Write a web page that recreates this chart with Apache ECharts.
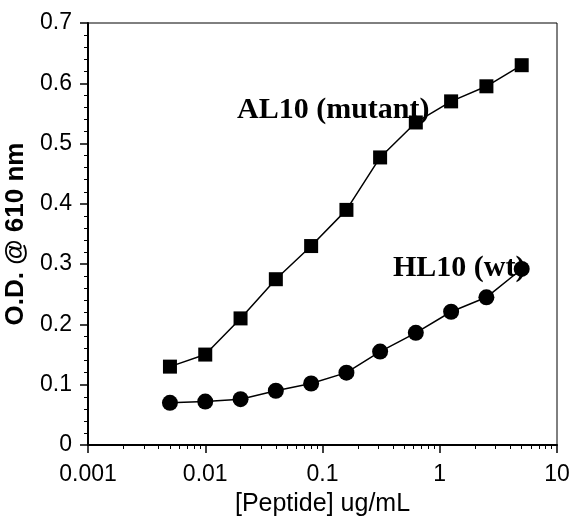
<!DOCTYPE html>
<html>
<head>
<meta charset="utf-8">
<script src="https://cdn.jsdelivr.net/npm/echarts@6/dist/echarts.min.js"></script>
<style>
  html, body { margin: 0; padding: 0; background: #fff; }
  #chart { width: 571px; height: 517px; }
</style>
</head>
<body>
<div id="chart"></div>
<script>
// peptide concentrations (ug/mL), two-fold dilutions
const conc = [0.005, 0.01, 0.02, 0.04, 0.08, 0.16, 0.31, 0.625, 1.25, 2.5, 5];
const al10 = [0.13, 0.15, 0.21, 0.275, 0.33, 0.39, 0.477, 0.535, 0.57, 0.595, 0.63];
const hl10 = [0.07, 0.072, 0.076, 0.09, 0.102, 0.12, 0.155, 0.186, 0.221, 0.245, 0.292];
const yTicks = [0, 0.1, 0.2, 0.3, 0.4, 0.5, 0.6, 0.7];

const pairs = (xs, ys) => xs.map((x, i) => [x, ys[i]]);

const chart = echarts.init(document.getElementById('chart'));

const axisFont = { fontFamily: 'Liberation Sans, Arial, sans-serif', fontSize: 23, color: '#000' };
const labelFont = 'bold 30px "Liberation Serif", "Times New Roman", serif';

chart.setOption({
  animation: false,
  grid: {
    left: 88, right: 14, top: 23, bottom: 72,
    outerBoundsMode: 'none',
    containLabel: false,
    show: true, borderColor: '#000', borderWidth: 1
  },
  xAxis: {
    type: 'log',
    logBase: 10,
    min: 0.001,
    max: 10,
    name: '[Peptide] ug/mL',
    nameLocation: 'middle',
    nameGap: 47,
    nameTextStyle: { ...axisFont, fontSize: 25 },
    axisLine: { lineStyle: { color: '#000', width: 2 } },
    axisTick: { length: 8, lineStyle: { color: '#000', width: 1.5 } },
    minorTick: { show: true, splitNumber: 9, length: 4, lineStyle: { color: '#000' } },
    splitLine: { show: false },
    axisLabel: {
      ...axisFont,
      margin: 18,
      formatter: v => String(v)
    }
  },
  yAxis: {
    type: 'value',
    min: 0,
    max: 0.7,
    interval: 0.1,
    name: 'O.D. @ 610 nm',
    nameLocation: 'middle',
    nameGap: 55,
    nameTextStyle: { ...axisFont, fontSize: 26, fontWeight: 'bold' },
    axisLine: { show: true, lineStyle: { color: '#000', width: 2 } },
    axisTick: { show: true, length: 8, lineStyle: { color: '#000', width: 1.5 } },
    minorTick: { show: true, splitNumber: 5, length: 4, lineStyle: { color: '#000' } },
    splitLine: { show: false },
    axisLabel: {
      ...axisFont,
      margin: 16,
      formatter: v => {
        const t = yTicks.find(k => Math.abs(k - v) < 1e-9);
        return t === 0 ? '0' : String(+t.toFixed(1));
      }
    }
  },
  graphic: [
    {
      type: 'text', left: 237, top: 95,
      style: { text: 'AL10 (mutant)', font: labelFont, fill: '#000' }
    },
    {
      type: 'text', left: 393, top: 253,
      style: { text: 'HL10 (wt)', font: labelFont, fill: '#000' }
    }
  ],
  series: [
    {
      name: 'AL10 (mutant)',
      type: 'line',
      data: pairs(conc, al10),
      symbol: 'rect',
      symbolSize: 14,
      itemStyle: { color: '#000' },
      lineStyle: { color: '#000', width: 1.5 }
    },
    {
      name: 'HL10 (wt)',
      type: 'line',
      data: pairs(conc, hl10),
      symbol: 'circle',
      symbolSize: 16,
      itemStyle: { color: '#000' },
      lineStyle: { color: '#000', width: 1.5 }
    }
  ]
});
</script>
</body>
</html>
